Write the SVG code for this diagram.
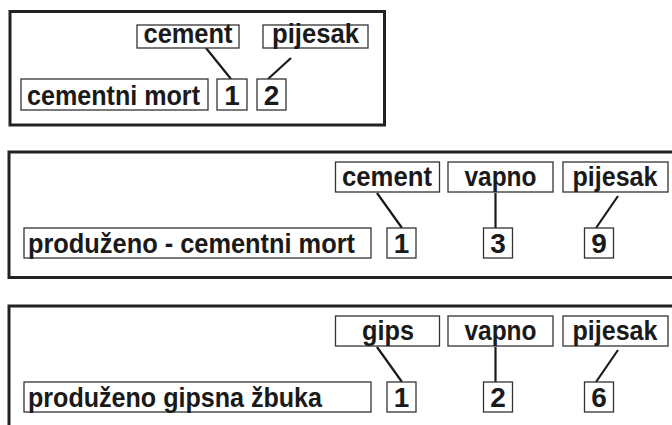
<svg xmlns="http://www.w3.org/2000/svg" width="672" height="425" viewBox="0 0 672 425">
<style>
.frame{fill:none;stroke:#222;stroke-width:3}
.box{fill:#fff;stroke:#333;stroke-width:1.3}
.t{font-family:"Liberation Sans",Arial,Helvetica,sans-serif;font-weight:bold;font-size:28px;fill:#1a1a1a}
.m{text-anchor:middle}
.c{stroke:#1a1a1a;stroke-width:2.2;fill:none}
</style>
<rect width="672" height="425" fill="#fff"/>
<rect class="frame" x="10" y="11.5" width="374.5" height="113.5"/>
<rect class="frame" x="9" y="152" width="680" height="125.5"/>
<rect class="frame" x="9" y="306" width="680" height="200"/>
<g id="connectors">
<line class="c" x1="206" y1="48" x2="231" y2="79"/>
<line class="c" x1="291" y1="58" x2="268" y2="79"/>
<line class="c" x1="377" y1="193" x2="402" y2="228"/>
<line class="c" x1="495.5" y1="193" x2="495.5" y2="228"/>
<line class="c" x1="618" y1="196" x2="596" y2="228"/>
<line class="c" x1="377" y1="347" x2="402" y2="382"/>
<line class="c" x1="495.5" y1="347" x2="495.5" y2="382"/>
<line class="c" x1="618" y1="350" x2="596" y2="382"/>
</g>
<g id="p1-cement"><rect class="box" x="137" y="25" width="102" height="23"/><text class="t m" x="188" y="43" textLength="89" lengthAdjust="spacingAndGlyphs">cement</text></g>
<g id="p1-pijesak"><rect class="box" x="263" y="25" width="105" height="23"/><text class="t m" x="315.5" y="43" textLength="87" lengthAdjust="spacingAndGlyphs">pijesak</text></g>
<g id="p1-name"><rect class="box" x="21" y="79" width="187" height="31"/><text class="t" x="27" y="104.5" textLength="173" lengthAdjust="spacingAndGlyphs">cementni mort</text></g>
<g id="p1-n1"><rect class="box" x="217" y="79" width="30" height="31"/><text class="t m" x="232" y="104.5">1</text></g>
<g id="p1-n2"><rect class="box" x="257" y="79" width="29" height="31"/><text class="t m" x="271.5" y="104.5">2</text></g>

<g id="p2-cement"><rect class="box" x="335.5" y="162" width="104" height="30"/><text class="t m" x="387" y="185.5" textLength="90" lengthAdjust="spacingAndGlyphs">cement</text></g>
<g id="p2-vapno"><rect class="box" x="448" y="162" width="105" height="30"/><text class="t m" x="500.5" y="185.5" textLength="72" lengthAdjust="spacingAndGlyphs">vapno</text></g>
<g id="p2-pijesak"><rect class="box" x="563" y="162" width="105" height="30"/><text class="t m" x="615" y="185.5" textLength="85" lengthAdjust="spacingAndGlyphs">pijesak</text></g>
<g id="p2-name"><rect class="box" x="24" y="228" width="347" height="30"/><text class="t" x="28" y="252.5" textLength="327" lengthAdjust="spacingAndGlyphs">produženo - cementni mort</text></g>
<g id="p2-n1"><rect class="box" x="387" y="228" width="29" height="30"/><text class="t m" x="401.5" y="252.5">1</text></g>
<g id="p2-n3"><rect class="box" x="483.5" y="228" width="29" height="30"/><text class="t m" x="498" y="252.5">3</text></g>
<g id="p2-n9"><rect class="box" x="584.5" y="228" width="29" height="30"/><text class="t m" x="599" y="252.5">9</text></g>

<g id="p3-gips"><rect class="box" x="335.5" y="316" width="104" height="30"/><text class="t m" x="388" y="339.5" textLength="52" lengthAdjust="spacingAndGlyphs">gips</text></g>
<g id="p3-vapno"><rect class="box" x="448" y="316" width="105" height="30"/><text class="t m" x="500.5" y="339.5" textLength="72" lengthAdjust="spacingAndGlyphs">vapno</text></g>
<g id="p3-pijesak"><rect class="box" x="563" y="316" width="105" height="30"/><text class="t m" x="615" y="339.5" textLength="85" lengthAdjust="spacingAndGlyphs">pijesak</text></g>
<g id="p3-name"><rect class="box" x="24" y="382" width="347" height="30"/><text class="t" x="28" y="406.5" textLength="294" lengthAdjust="spacingAndGlyphs">produženo gipsna žbuka</text></g>
<g id="p3-n1"><rect class="box" x="387" y="382" width="29" height="30"/><text class="t m" x="401.5" y="406.5">1</text></g>
<g id="p3-n2"><rect class="box" x="483.5" y="382" width="29" height="30"/><text class="t m" x="498" y="406.5">2</text></g>
<g id="p3-n6"><rect class="box" x="584.5" y="382" width="29" height="30"/><text class="t m" x="599" y="406.5">6</text></g>
</svg>
